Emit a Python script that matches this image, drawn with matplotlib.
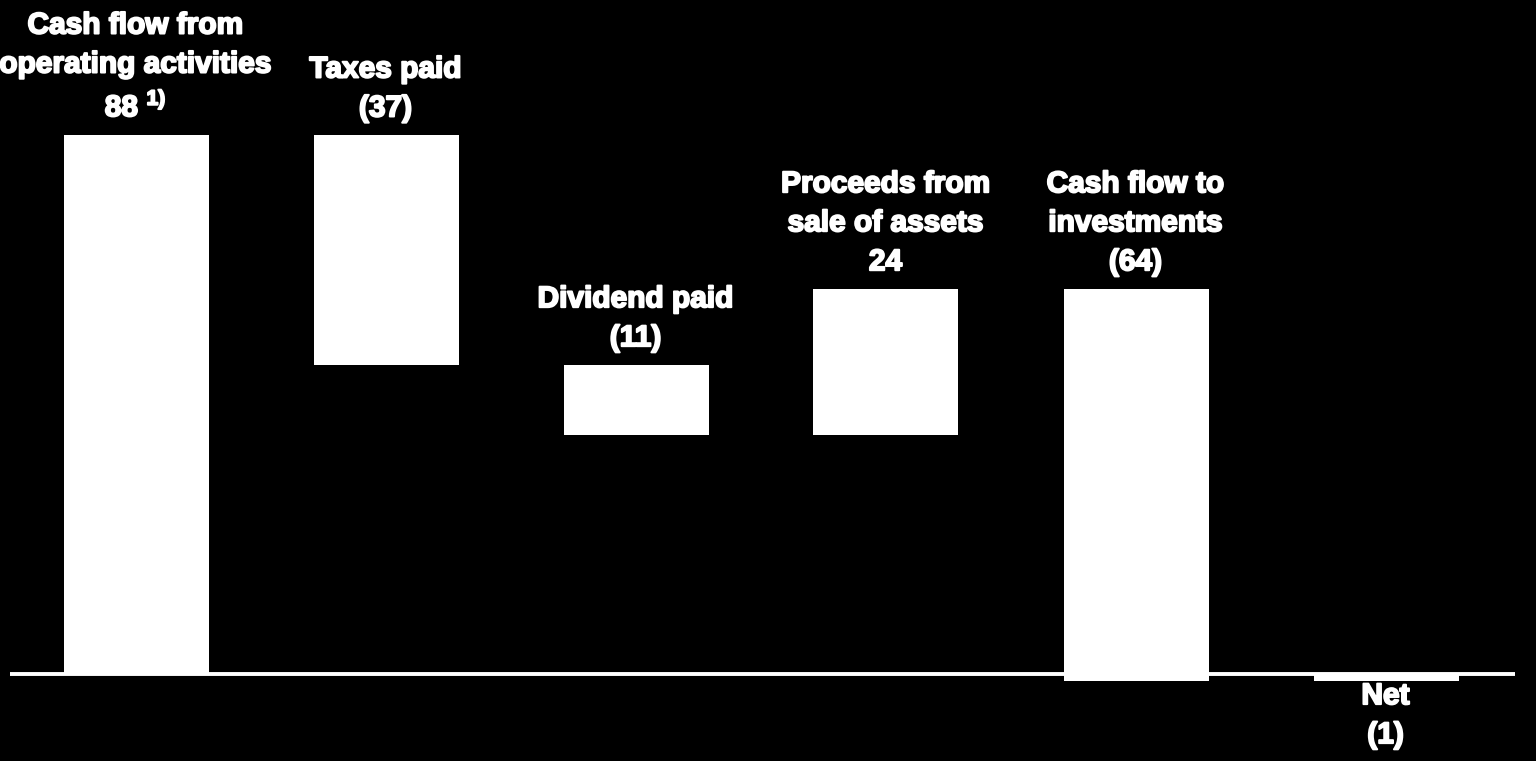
"""Cash flow waterfall: operating cash flow down to net change."""
import matplotlib
matplotlib.use("Agg")
import matplotlib.pyplot as plt
import matplotlib.patheffects as pe
import numpy as np

categories = [
    "Cash flow from\noperating activities",
    "Taxes paid",
    "Dividend paid",
    "Proceeds from\nsale of assets",
    "Cash flow to\ninvestments",
    "Net",
]
# unrounded flows; labels show rounded figures
flows = [88.0, -37.5, -11.5, 23.9, -64.0]
value_labels = ["88 $^{\\mathbf{1)}}$", "(37)", "(11)", "24", "(64)", "(1)"]

plt.rcParams["font.family"] = ["Liberation Sans", "DejaVu Sans"]
plt.rcParams["mathtext.fontset"] = "custom"
plt.rcParams["mathtext.rm"] = "Liberation Sans"
plt.rcParams["mathtext.bf"] = "Liberation Sans:bold"

levels = np.cumsum(flows)
starts = np.concatenate([[0], levels[:-1]])
net = levels[-1]
bottoms = list(np.minimum(starts, levels)) + [min(0, net)]
heights = list(np.abs(levels - starts)) + [abs(net)]

fig = plt.figure(figsize=(15.36, 7.61), dpi=100, facecolor="black")
ax = fig.add_axes([0, 0, 1, 1])
ax.set_facecolor("black")

x = np.arange(len(categories))
ax.bar(x + 0.002, heights, bottom=bottoms, width=0.58, color="white", edgecolor="none")
ax.axhline(0, xmin=0.0065, xmax=0.9865, color="white", lw=2.8, solid_capstyle="butt")

fat = [pe.withStroke(linewidth=1.4, foreground="white")]
for i, (cat, lab) in enumerate(zip(categories, value_labels)):
    txt = f"{cat}\n{lab}"
    kw = dict(textcoords="offset points", ha="center", color="white", fontsize=21.5,
              fontweight="bold", linespacing=1.5, path_effects=fat)
    if i == len(categories) - 1:
        ax.annotate(txt, (x[i], bottoms[i]), xytext=(0, -1), va="top", **kw)
    else:
        top = bottoms[i] + heights[i]
        ax.annotate(txt, (x[i], top), xytext=(0, 9), va="bottom", **kw)

ax.set_xlim(-0.542, 5.602)
ax.set_ylim(-14.2, 110.04)
ax.axis("off")

fig.savefig("out.png", dpi=100, facecolor="black")
